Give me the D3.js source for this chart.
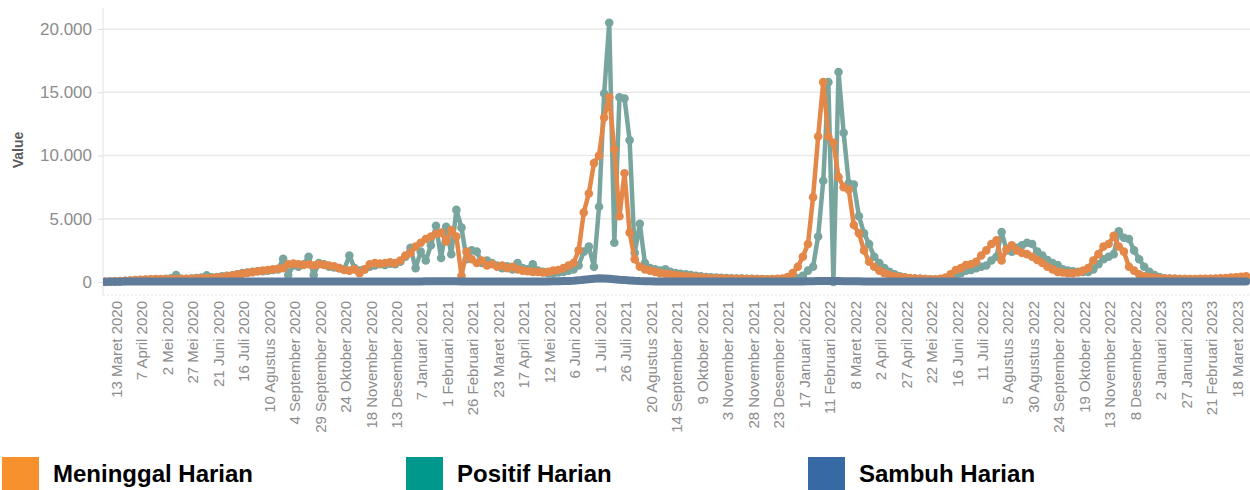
<!DOCTYPE html>
<html><head><meta charset="utf-8">
<script src="https://cdn.jsdelivr.net/npm/d3@7"></script>
<style>body{margin:0;background:#fff;} svg{display:block}</style>
</head><body><svg id="c" width="1250" height="490"></svg>
<script>
// ---- data ----
const startDate = "2020-03-02";
const stepDays = 5;
const tickLabels = ["13 Maret 2020","7 April 2020","2 Mei 2020","27 Mei 2020","21 Juni 2020","16 Juli 2020","10 Agustus 2020","4 September 2020","29 September 2020","24 Oktober 2020","18 November 2020","13 Desember 2020","7 Januari 2021","1 Februari 2021","26 Februari 2021","23 Maret 2021","17 April 2021","12 Mei 2021","6 Juni 2021","1 Juli 2021","26 Juli 2021","20 Agustus 2021","14 September 2021","9 Oktober 2021","3 November 2021","28 November 2021","23 Desember 2021","17 Januari 2022","11 Februari 2022","8 Maret 2022","2 April 2022","27 April 2022","22 Mei 2022","16 Juni 2022","11 Juli 2022","5 Agustus 2022","30 Agustus 2022","24 September 2022","19 Oktober 2022","13 November 2022","8 Desember 2022","2 Januari 2023","27 Januari 2023","21 Februari 2023","18 Maret 2023"];
const yTicks = [0, 5000, 10000, 15000, 20000];
const seriesNames = ["Meninggal Harian", "Positif Harian", "Sambuh Harian"];

const meninggalHarian = [
20,40,60,80,100, 120,150,170,200,220, 230,240,220,230,240, 230,250,260,280,300,
300,320,350,400,450, 520,580,650,720,780, 850,900,950,1000,1050, 1100,1400,1450,1400,1350,
1400,1300,1400,1350,1300, 1250,1100,950,900,1000, 700,1000,1400,1500,1450, 1500,1550,1500,1700,2100,
2300,2800,3100,3400,3600, 3800,3900,3200,4100,3600, 500,2400,1800,1500,1700, 1300,1400,1200,1300,1100,
1200,1000,900,850,800, 800,750,800,900,950, 1100,1300,1500,2500,5500, 7000,9400,10000,13000,14600,
10500,5200,8600,3900,1800, 1200,1000,900,800,700, 650,600,550,500,450, 420,400,350,330,300,
300,280,280,260,250, 250,240,230,230,220, 220,230,250,280,400, 700,1200,2000,3000,6700,
11500,15800,11500,11000,8300, 7500,7300,4500,3850,2500, 1600,1200,900,700,550, 450,400,350,300,280,
250,230,220,220,250, 350,600,950,1100,1340, 1400,1600,2100,2500,3000, 3300,1700,2600,2900,2500,
2300,2200,2000,1740,1500, 1200,1000,800,750,700, 700,750,900,1100,1700, 2200,2800,3000,3650,2800,
2400,1200,900,600,450, 400,350,300,280,260, 250,240,230,230,240, 250,250,260,280,300,
320,350,380,420,450
];
const positifHarian = [
10,30,50,60,80, 100,120,150,180,200, 200,220,250,300,550, 250,240,280,320,350,
520,380,400,450,500, 500,600,700,750,800, 850,850,900,950,1000, 1840,550,1300,1200,1400,
2000,550,1500,1400,1200, 1150,1100,1000,2100,1100, 900,1000,1200,1300,1400, 1350,1450,1400,1600,2000,
2700,1100,2400,1700,2900, 4450,1900,4370,2200,5700, 4300,1800,2500,2400,1500, 1700,1500,1300,1100,1250,
1000,1500,1100,1000,1400, 900,800,700,700,750, 800,900,1000,1300,2400, 2800,1200,5950,14900,20500,
3100,14600,14500,11200,2300, 4600,1500,1100,1000,900, 1000,800,700,650,600, 550,500,450,400,380,
350,330,320,300,280, 270,260,250,240,230, 220,210,200,200,200, 250,300,500,900,1200,
3600,8000,15800,0,16600, 11800,7800,7700,5200,3850, 3000,2000,1500,1100,800, 600,450,380,320,280,
250,230,220,200,220, 250,350,500,700,900, 950,1100,1200,1300,1700, 2000,3950,2500,2400,2700,
2900,3100,3000,2400,2100, 1740,1500,1340,1000,900, 850,800,800,800,1000, 1400,1800,2000,2200,4000,
3500,3400,2500,1800,1200, 800,550,400,300,270, 250,240,230,220,220, 220,220,230,240,250,
260,280,300,320,350
];
const sambuhHarian = [
10,15,20,25,30, 30,35,35,40,40, 40,40,40,40,40, 40,40,40,40,40,
40,40,40,40,40, 40,40,40,40,40, 40,40,40,40,40, 40,40,40,40,40,
40,40,40,40,40, 40,40,40,40,40, 40,40,40,40,40, 40,40,40,40,40,
40,45,45,50,50, 50,55,55,50,50, 45,45,40,40,40, 40,40,40,40,40,
40,40,40,40,40, 40,40,40,50,60, 70,80,100,130,180, 220,260,300,280,250,
220,180,150,120,90, 70,60,50,45,40, 40,40,40,40,40, 40,40,40,40,40,
40,40,40,40,40, 40,40,40,40,40, 40,40,40,40,40, 40,40,45,50,60,
70,80,80,70,70, 60,60,55,50,45, 40,40,40,40,40, 40,40,40,40,40,
40,40,40,40,40, 40,40,40,40,40, 40,40,40,40,40, 40,40,40,40,40,
40,40,40,40,40, 40,40,40,40,40, 40,40,40,40,40, 40,40,40,40,40,
40,40,40,40,40, 40,40,40,40,40, 40,40,40,40,40, 40,40,40,40,40,
40,40,40,40,40
];

// ---- setup ----
const lineColors = {m: "#e4884a", p: "#79a59f", s: "#5e7b99"};
const legendColors = ["#f7912c", "#00978c", "#3769a4"];
const plot = {left: 103, right: 1250, top: 8, bottom: 295};

const monthIdx = {Januari:0, Februari:1, Maret:2, April:3, Mei:4, Juni:5, Juli:6, Agustus:7, September:8, Oktober:9, November:10, Desember:11};
function parseLabel(s){ const [d,m,yy] = s.split(" "); return new Date(Date.UTC(+yy, monthIdx[m], +d)); }
const tickDates = tickLabels.map(parseLabel);
const t0 = d3.utcParse("%Y-%m-%d")(startDate);
const dates = meninggalHarian.map((_, i) => d3.utcDay.offset(t0, i * stepDays));

const x = d3.scaleUtc().domain([tickDates[0], tickDates[tickDates.length - 1]]).range([116, 1237]);
const y = d3.scaleLinear().domain([0, 20000]).range([282, 29]);
const idLocale = d3.formatLocale({decimal: ",", thousands: ".", grouping: [3], currency: ["Rp", ""]});
const fmt = idLocale.format(",");

const svg = d3.select("#c");
svg.append("defs").append("clipPath").attr("id", "clip")
  .append("rect").attr("x", plot.left).attr("y", 0).attr("width", plot.right - plot.left).attr("height", plot.bottom);

// grid
svg.append("g").selectAll("line").data(yTicks).join("line")
  .attr("x1", plot.left).attr("x2", plot.right)
  .attr("y1", d => y(d)).attr("y2", d => y(d))
  .attr("stroke", "#e9e9e9").attr("stroke-width", 1.5);

// axis frame
svg.append("line").attr("x1", plot.left).attr("x2", plot.left).attr("y1", plot.top).attr("y2", plot.bottom)
  .attr("stroke", "#e2e2e2").attr("stroke-width", 1);
svg.append("line").attr("x1", plot.left).attr("x2", plot.right).attr("y1", plot.bottom).attr("y2", plot.bottom)
  .attr("stroke", "#e2e2e2").attr("stroke-width", 1).attr("stroke-dasharray", "2,2");

// y axis
const yAxis = svg.append("g").attr("transform", `translate(${plot.left},0)`)
  .call(d3.axisLeft(y).tickValues(yTicks).tickFormat(fmt).tickSize(5).tickPadding(6));
yAxis.select(".domain").remove();
yAxis.selectAll(".tick line").attr("stroke", "#dcdcdc");
yAxis.selectAll("text").attr("fill", "#8c8c8c").style("font-family", "'Liberation Sans', Arial, sans-serif").style("font-size", "17px");

svg.append("text").attr("transform", "translate(23,150) rotate(-90)")
  .attr("text-anchor", "middle").attr("fill", "#5a5a5a")
  .style("font-family", "'Liberation Sans', Arial, sans-serif").style("font-size", "14px").style("font-weight", "bold")
  .text("Value");

// x axis
const xAxis = svg.append("g").attr("transform", `translate(0,${plot.bottom})`)
  .call(d3.axisBottom(x).tickValues(tickDates).tickFormat((d, i) => tickLabels[i]).tickSize(0));
xAxis.select(".domain").remove();
xAxis.selectAll("text")
  .attr("transform", "rotate(-90)").attr("x", -6).attr("y", 0).attr("dy", "0.35em")
  .attr("text-anchor", "end").attr("fill", "#8c8c8c")
  .style("font-family", "'Liberation Sans', Arial, sans-serif").style("font-size", "15px");

// series
const g = svg.append("g").attr("clip-path", "url(#clip)");
const line = d3.line().x(d => x(d[0])).y(d => y(d[1]));
function drawSeries(vals, color, width, r) {
  const pts = vals.map((v, i) => [dates[i], v]);
  g.append("path").datum(pts).attr("d", line).attr("fill", "none")
    .attr("stroke", color).attr("stroke-width", width).attr("stroke-linejoin", "round").attr("stroke-linecap", "round");
  if (r > 0) {
    g.append("g").selectAll("circle").data(pts).join("circle")
      .attr("cx", d => x(d[0])).attr("cy", d => y(d[1])).attr("r", r).attr("fill", color);
  }
}
drawSeries(positifHarian, lineColors.p, 4.5, 4.3);
drawSeries(meninggalHarian, lineColors.m, 4.5, 4.3);
drawSeries(sambuhHarian, lineColors.s, 8, 0);

// legend
const legendX = [2, 406, 808];
const lg = svg.append("g");
seriesNames.forEach((name, i) => {
  lg.append("rect").attr("x", legendX[i]).attr("y", 457).attr("width", 37).attr("height", 37).attr("fill", legendColors[i]);
  lg.append("text").attr("x", legendX[i] + 51).attr("y", 482)
    .attr("fill", "#000").style("font-family", "'Liberation Sans', Arial, sans-serif")
    .style("font-size", "24px").style("font-weight", "bold").text(name);
});
</script>
</body></html>
